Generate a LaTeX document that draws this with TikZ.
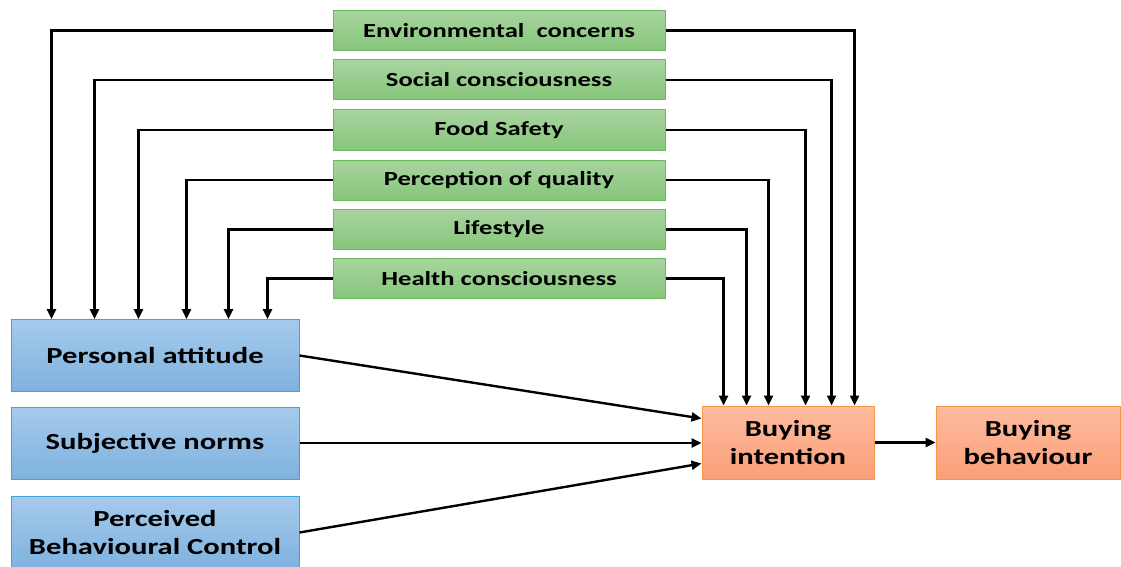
\documentclass[tikz,border=0pt]{standalone}
\usepackage{fontspec}
\setmainfont{Carlito}[FakeStretch=1.33]
\usepackage{xcolor}
\usepackage{tikz}
\usetikzlibrary{arrows.meta,positioning,calc}
\definecolor{greentop}{RGB}{168,212,160}
\definecolor{greenbot}{RGB}{134,198,122}
\definecolor{greenline}{RGB}{106,186,94}
\definecolor{bluetop}{RGB}{166,202,236}
\definecolor{bluebot}{RGB}{126,178,222}
\definecolor{blueline}{RGB}{62,164,220}
\definecolor{orangetop}{RGB}{255,188,158}
\definecolor{orangebot}{RGB}{250,158,120}
\definecolor{orangeline}{RGB}{247,150,70}

\tikzset{
    factor/.style={draw=greenline, line width=1pt, top color=greentop, bottom color=greenbot,
        minimum width=332pt, minimum height=40pt, inner sep=0pt,
        font=\fontsize{20}{22}\selectfont\bfseries},
    tpb/.style={draw=blueline, line width=1pt, top color=bluetop, bottom color=bluebot,
        minimum width=288pt, minimum height=72pt, inner sep=0pt, align=center,
        font=\fontsize{23}{28}\selectfont\bfseries},
    outcome/.style={draw=orangeline, line width=1pt, top color=orangetop, bottom color=orangebot,
        minimum height=73pt, inner sep=0pt, align=center,
        font=\fontsize{23}{28}\selectfont\bfseries},
    arr/.style={-{Triangle[length=10pt,width=9pt]}, line width=2.4pt, black}
}

\begin{document}
\begin{tikzpicture}[x=1pt,y=-1pt]
    \useasboundingbox (0,0) rectangle (1121,567);

    % influencing factors
    \node[factor] (env)  at (499,30.5)  {Environmental\ \ concerns};
    \node[factor] (soc)  at (499,80)    {Social consciousness};
    \node[factor] (food) at (499,130)   {Food Safety};
    \node[factor] (qual) at (499,180)   {Perception of quality};
    \node[factor] (life) at (499,229.5) {Lifestyle};
    \node[factor] (hlth) at (499,278.5) {Health consciousness};

    % theory of planned behaviour
    \node[tpb] (att)  at (155,355.5) {Personal attitude};
    \node[tpb] (norm) at (155,443)   {Subjective norms};
    \node[tpb] (pbc)  at (155,532.5) {Perceived\\Behavioural Control};

    \node[outcome, minimum width=172pt] (int) at (788,442.5)  {Buying\\intention};
    \node[outcome, minimum width=184pt] (beh) at (1028,442.5) {Buying\\behaviour};

    % factors into attitude
    \draw[arr] (env.west)  -| ([xshift=41pt]att.north west);
    \draw[arr] (soc.west)  -| ([xshift=84pt]att.north west);
    \draw[arr] (food.west) -| ([xshift=128pt]att.north west);
    \draw[arr] (qual.west) -| ([xshift=176pt]att.north west);
    \draw[arr] (life.west) -| ([xshift=218pt]att.north west);
    \draw[arr] (hlth.west) -| ([xshift=257pt]att.north west);

    % factors into intention
    \draw[arr] (env.east)  -| ([xshift=153pt]int.north west);
    \draw[arr] (soc.east)  -| ([xshift=130pt]int.north west);
    \draw[arr] (food.east) -| ([xshift=104pt]int.north west);
    \draw[arr] (qual.east) -| ([xshift=67pt]int.north west);
    \draw[arr] (life.east) -| ([xshift=45pt]int.north west);
    \draw[arr] (hlth.east) -| ([xshift=22pt]int.north west);

    \draw[arr] (att.east)  -- ([yshift=24pt]int.west);
    \draw[arr] (norm.east) -- (int.west |- norm.east);
    \draw[arr] (pbc.east)  -- ([yshift=-21pt]int.west);
    \draw[arr] (int.east)  -- (beh.west);
\end{tikzpicture}
\end{document}
